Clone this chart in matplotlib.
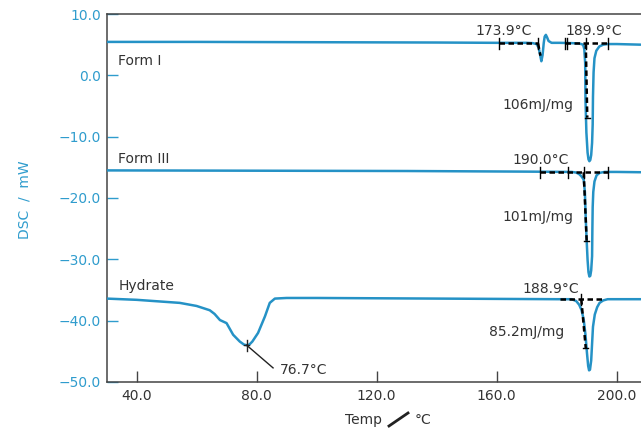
import matplotlib
matplotlib.use("Agg")
import matplotlib.pyplot as plt
from matplotlib.lines import Line2D

# DSC thermograms (temperature in degC, heat flow in mW, offset per trace)
form1_temp = [30, 60, 100, 140, 160, 170, 172, 173.3, 174.0, 174.5, 174.9, 175.3, 175.7,
              176.0, 176.4, 176.8, 177.3, 178.3, 181, 185, 187.5, 188.8, 189.2, 189.5,
              189.6, 189.9, 190.3, 190.6, 190.9, 191.2, 191.5, 191.8, 192.0, 192.1, 192.3,
              192.6, 193.2, 194.2, 195.5, 197, 200, 208]
form1_dsc = [5.45, 5.45, 5.4, 5.35, 5.3, 5.3, 5.25, 5.1, 4.5, 3.3, 2.3, 3.3, 5.3,
             6.3, 6.6, 6.2, 5.6, 5.3, 5.3, 5.25, 5.2, 5.0, 4.3, 2.0,
             -3.9, -9.3, -12.6, -13.7, -14.0, -13.8, -13.0, -11.0, -8.0, -3.5, 0.5,
             2.8, 4.0, 4.7, 5.0, 5.1, 5.1, 5.0]

form3_temp = [30, 80, 130, 170, 185, 186.5, 187.5, 188.3, 189.0, 189.4, 189.7, 190.0,
              190.3, 190.6, 190.9, 191.2, 191.5, 191.8, 191.9, 192.0, 192.2, 192.6, 193.3,
              194.3, 196, 200, 208]
form3_dsc = [-15.5, -15.55, -15.6, -15.7, -15.75, -15.85, -16.1, -16.5, -17.0, -19.0,
             -23.5, -27.0, -30.1, -32.1, -32.8, -32.7, -31.8, -29.5, -25.0, -21.5, -19.0,
             -17.3, -16.3, -15.9, -15.75, -15.75, -15.8]

hydrate_temp = [30, 40, 54.4, 60, 64.4, 66, 67.8, 70, 72.2, 74.4, 75.8, 76.7, 77.6, 78.6,
                80.5, 82.8, 84.4, 86.1, 90, 100, 140, 180, 185, 186.5, 187.5, 188.3,
                189.0, 189.6, 190.1, 190.5, 190.8, 191.1, 191.5, 192.1, 192.7, 193.5,
                194.3, 195.5, 197, 200, 208]
hydrate_dsc = [-36.4, -36.6, -37.1, -37.6, -38.3, -38.9, -39.9, -40.4, -42.3, -43.4,
               -43.9, -44.0, -43.9, -43.4, -42.0, -39.3, -37.1, -36.4, -36.3, -36.3,
               -36.4, -36.5, -36.5, -36.8, -37.4, -38.3, -39.8, -42.3, -45.3, -47.4,
               -48.1, -48.0, -46.5, -41.0, -39.0, -37.8, -37.1, -36.7, -36.5, -36.5,
               -36.5]

trace_names = ["Form I", "Form III", "Hydrate"]
onset_labels = ["189.9\u00b0C", "190.0\u00b0C", "188.9\u00b0C"]
enthalpy_labels = ["106mJ/mg", "101mJ/mg", "85.2mJ/mg"]
form1_transition_label = "173.9\u00b0C"
dehydration_peak = (76.7, -44.0)
dehydration_label = "76.7\u00b0C"

x_ticks = [40, 80, 120, 160, 200]
y_ticks = [-50, -40, -30, -20, -10, 0, 10]

BLUE = "#2592c6"
TICK_BLUE = "#2f9ccd"
TEXT = "#333333"
SPINE = "#444444"

W, H = 641, 428
fig = plt.figure(figsize=(W / 100, H / 100), dpi=100)
ax = fig.add_axes([106.5 / W, 46 / H, 1 - 106.5 / W, 368 / H])

for t, d in [(form1_temp, form1_dsc), (form3_temp, form3_dsc), (hydrate_temp, hydrate_dsc)]:
    ax.plot(t, d, color=BLUE, lw=1.8, solid_joinstyle="round", solid_capstyle="round", zorder=3)

ax.set_xlim(30, 208.1)
ax.set_ylim(-50, 10)
ax.set_xticks(x_ticks)
ax.set_xticklabels([f"{v:.1f}" for v in x_ticks])
ax.set_yticks(y_ticks)
ax.set_yticklabels([f"{v:.1f}".replace("-", "\u2212") for v in y_ticks])
ax.tick_params(axis="x", direction="in", length=8, width=1.0, color=SPINE,
               labelcolor=TEXT, labelsize=10, pad=5)
ax.tick_params(axis="y", direction="in", length=8, width=1.0, color=TICK_BLUE,
               labelcolor=TICK_BLUE, labelsize=10, pad=4)
for side in ["left", "top", "bottom"]:
    ax.spines[side].set_color(SPINE)
    ax.spines[side].set_linewidth(1.1)
ax.spines["right"].set_visible(False)

# trace names
for name, y in zip(trace_names, [2.3, -13.6, -34.4]):
    ax.text(33.9, y, name, color=TEXT, fontsize=10, va="center", ha="left")

dash = dict(color="black", lw=1.8, ls=(0, (2.2, 1.4)), zorder=4)
tick = dict(color="black", lw=1.0, zorder=4)


def hbar(x0, x1, y, ticks):
    ax.plot([x0, x1], [y, y], **dash)
    for xt in ticks:
        ax.plot([xt, xt], [y - 0.9, y + 0.9], **tick)


def vbar(x0, y0, x1, y1):
    ax.plot([x0, x1], [y0, y1], **dash)
    ax.plot([x1 - 0.9, x1 + 0.9], [y1, y1], **tick)


# Form I: solid-solid transition and melting
hbar(160.7, 173.8, 5.2, [160.7, 173.7])
ax.plot([173.8, 174.6], [5.2, 3.2], **dash)
ax.text(162.2, 7.2, form1_transition_label, color=TEXT, fontsize=10, ha="center", va="center")
hbar(182.7, 197.1, 5.2, [182.7, 183.5, 189.7, 197.1])
vbar(189.7, 5.2, 190.2, -6.9)
ax.text(192.5, 7.2, onset_labels[0], color=TEXT, fontsize=10, ha="center", va="center")
ax.text(173.8, -4.9, enthalpy_labels[0], color=TEXT, fontsize=10, ha="center", va="center")

# Form III melting
hbar(174.3, 197.1, -15.8, [174.3, 183.8, 189.0, 197.1])
vbar(189.0, -15.8, 190.0, -27.0)
ax.text(174.7, -13.8, onset_labels[1], color=TEXT, fontsize=10, ha="center", va="center")
ax.text(173.8, -23.1, enthalpy_labels[1], color=TEXT, fontsize=10, ha="center", va="center")

# Hydrate melting
hbar(181.0, 196.0, -36.5, [188.2])
vbar(188.2, -36.5, 189.7, -44.5)
ax.text(178.0, -34.9, onset_labels[2], color=TEXT, fontsize=10, ha="center", va="center")
ax.text(170.0, -41.8, enthalpy_labels[2], color=TEXT, fontsize=10, ha="center", va="center")

# Hydrate dehydration peak
px, py = dehydration_peak
ax.plot([px, 85.5], [py, -47.7], color="#222222", lw=1.0, zorder=4)
ax.plot([px - 0.8, px + 0.8], [py, py], color="#222222", lw=1.0, zorder=4)
ax.plot([px, px], [py - 0.9, py + 0.9], color="#222222", lw=1.0, zorder=4)
ax.text(87.8, -48.0, dehydration_label, color=TEXT, fontsize=10, ha="left", va="center")

# axis titles
fig.text(25 / W, 1 - 200 / H, "DSC  /  mW", rotation=90, color=TICK_BLUE, fontsize=10,
         ha="center", va="center")
fig.text(382 / W, 1 - 420 / H, "Temp", color=TEXT, fontsize=10, ha="right", va="center")
fig.add_artist(Line2D([389 / W, 408 / W], [1 - 426 / H, 1 - 413 / H], color="#222222",
                      lw=2.0, transform=fig.transFigure))
fig.text(415 / W, 1 - 420 / H, "\u00b0C", color=TEXT, fontsize=10, ha="left", va="center")

fig.savefig("out.png", dpi=100)
